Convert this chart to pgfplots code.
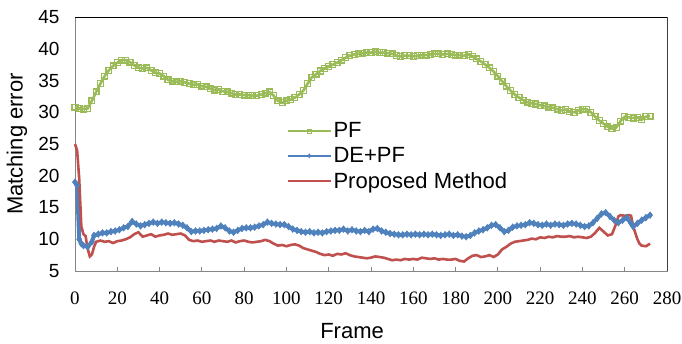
\documentclass[border=0pt]{standalone}
\usepackage{pgfplots}
\pgfplotsset{compat=1.18}
\usepackage{fontspec}
\setmainfont{Liberation Sans}
\newfontfamily\tickserif{Liberation Serif}
\definecolor{pfgreen}{HTML}{9BBB59}
\definecolor{deblue}{HTML}{4F81BD}
\definecolor{pmred}{HTML}{C0504D}
\definecolor{axgray}{HTML}{868686}
\begin{document}
\begin{tikzpicture}
\begin{axis}[
  scale only axis,
  width=592pt, height=254pt,
  xmin=0, xmax=280, ymin=5, ymax=45,
  xtick={0,20,...,280}, ytick={5,10,...,45},
  /pgf/number format/assume math mode=true,
  axis line style={axgray, line width=0.8pt},
  x tick style={axgray, line width=0.8pt},
  major tick length=4.5pt,
  xtick pos=bottom, ytick pos=left,
  tick align=inside,
  y tick style={draw=none},
  xticklabel style={font=\tickserif\fontsize{19}{19}\selectfont, yshift=-17pt},
  yticklabel style={font=\fontsize{19}{19}\selectfont, xshift=-12pt},
  xlabel={Frame}, ylabel={Matching error},
  label style={font=\fontsize{22}{22}\selectfont},
  xlabel style={at={(rel axis cs:0.468,0)}, anchor=center, yshift=-60pt},
  ylabel style={at={(rel axis cs:0,0.5)}, anchor=center, yshift=58pt},
  clip=false,
  legend style={at={(axis cs:100,28.6)}, anchor=north west, draw=none, fill=none,
    font=\fontsize{22}{22}\selectfont, row sep=5pt, inner sep=0pt,
    nodes={inner sep=1.5pt, anchor=west}},
  legend cell align=left,
  legend image code/.code={\draw[mark repeat=2,mark phase=2,#1] plot coordinates {(0pt,0pt) (21.5pt,0pt) (43pt,0pt)};},
  legend image post style={line width=2.4pt, mark size=2pt},
]
\addplot[pfgreen, line width=2.6pt, mark=square, mark size=2.9pt, mark options={line width=1.3pt, solid, fill=none}] coordinates {
(0,30.8)(2,30.6)(4,30.5)(6,30.6)(8,31.8)(10,33.2)(12,34.5)(14,35.7)(16,36.6)(18,37.3)(20,37.8)(22,38.2)(24,38.2)(26,37.9)(28,37.4)(30,37.0)(32,36.9)(34,37.0)(36,36.6)(38,36.2)(40,36.1)(42,35.7)(44,35.1)(46,34.9)(48,34.8)(50,34.9)(52,34.7)(54,34.5)(56,34.3)(58,34.4)(60,34.1)(62,34.0)(64,33.7)(66,33.5)(68,33.6)(70,33.3)(72,33.2)(74,33.0)(76,32.8)(78,32.8)(80,32.7)(82,32.7)(84,32.6)(86,32.6)(88,32.8)(90,33.0)(92,33.2)(94,32.6)(96,31.8)(98,31.5)(100,31.8)(102,32.0)(104,32.3)(106,32.8)(108,33.4)(110,34.5)(112,35.5)(114,36.0)(116,36.5)(118,36.9)(120,37.2)(122,37.5)(124,37.8)(126,38.2)(128,38.6)(130,38.9)(132,39.1)(134,39.2)(136,39.3)(138,39.4)(140,39.4)(142,39.5)(144,39.4)(146,39.4)(148,39.3)(150,39.2)(152,38.9)(154,38.8)(156,38.9)(158,38.9)(160,38.8)(162,38.9)(164,39.0)(166,39.0)(168,39.1)(170,39.2)(172,39.2)(174,39.1)(176,39.2)(178,39.1)(180,39.0)(182,39.0)(184,38.9)(186,39.1)(188,38.8)(190,38.4)(192,38.0)(194,37.5)(196,37.0)(198,36.4)(200,35.7)(202,34.9)(204,34.1)(206,33.4)(208,32.8)(210,32.3)(212,31.9)(214,31.6)(216,31.4)(218,31.3)(220,31.1)(222,31.0)(224,30.8)(226,30.7)(228,30.5)(230,30.3)(232,30.4)(234,30.1)(236,30.0)(238,30.3)(240,30.5)(242,30.5)(244,30.0)(246,29.3)(248,28.7)(250,28.2)(252,27.7)(254,27.4)(256,27.6)(258,28.6)(260,29.3)(262,29.2)(264,29.1)(266,29.2)(268,28.8)(270,29.3)(272,29.4)
};
\addlegendentry{PF}
\addplot[deblue, line width=4pt, mark=diamond*, mark size=3.4pt, mark options={solid, line width=0.5pt}] coordinates {
(0,19.0)(1,18.5)(2,10.0)(3,9.3)(4,9.0)(6,8.8)(8,9.6)(9,10.6)(11,10.8)(13,11.0)(15,11.0)(17,11.2)(19,11.3)(21,11.5)(23,11.8)(25,12.0)(27,12.8)(29,12.4)(31,12.1)(33,12.3)(35,12.5)(37,12.7)(39,12.5)(41,12.7)(43,12.6)(45,12.5)(47,12.6)(49,12.4)(51,12.2)(53,11.8)(55,11.2)(57,11.3)(59,11.3)(61,11.4)(63,11.5)(65,11.6)(67,11.7)(69,12.1)(71,11.8)(73,11.3)(75,11.1)(77,11.4)(79,11.7)(81,11.8)(83,11.8)(85,11.9)(87,12.1)(89,12.3)(91,12.7)(93,12.5)(95,12.4)(97,12.3)(99,12.3)(101,12.0)(103,11.6)(105,11.4)(107,11.2)(109,11.1)(111,11.2)(113,11.0)(115,11.1)(117,11.0)(119,11.2)(121,11.3)(123,11.4)(125,11.4)(127,11.6)(129,11.3)(131,11.5)(133,11.3)(135,11.2)(137,11.4)(139,11.2)(141,11.6)(143,11.7)(145,11.3)(147,11.1)(149,10.9)(151,10.8)(153,10.7)(155,10.7)(157,10.8)(159,10.7)(161,10.8)(163,10.7)(165,10.8)(167,10.7)(169,10.8)(171,10.7)(173,10.6)(175,10.7)(177,10.8)(179,10.6)(181,10.7)(183,10.5)(185,10.4)(187,10.6)(189,11.0)(191,11.3)(193,11.5)(195,11.8)(197,12.2)(199,12.3)(201,11.8)(203,11.2)(205,11.4)(207,11.9)(209,12.1)(211,12.2)(213,12.3)(215,12.6)(217,12.5)(219,12.3)(221,12.2)(223,12.4)(225,12.2)(227,12.4)(229,12.3)(231,12.2)(233,12.4)(235,12.5)(237,12.4)(239,12.2)(241,12.0)(243,12.1)(245,12.6)(247,13.3)(249,14.0)(251,14.2)(253,13.6)(255,13.0)(257,12.6)(259,13.0)(261,13.4)(263,12.5)(264,12.0)(266,12.5)(268,13.0)(270,13.4)(272,13.8)
};
\addlegendentry{DE+PF}
\addplot[pmred, line width=2.6pt, no marks] coordinates {
(0,25.0)(1,24.0)(2,19.5)(3,12.0)(4,10.8)(5,10.5)(6,8.5)(7,7.3)(8,7.6)(9,8.8)(10,9.6)(12,9.8)(14,9.6)(16,9.7)(18,9.4)(20,9.7)(22,9.8)(24,10.0)(26,10.3)(28,10.8)(30,11.1)(32,10.4)(34,10.6)(36,10.8)(38,10.4)(40,10.6)(42,10.7)(44,10.9)(46,10.7)(48,10.8)(50,10.9)(52,10.6)(54,9.9)(56,9.7)(58,9.8)(60,9.6)(62,9.7)(64,9.8)(66,9.6)(68,9.8)(70,9.7)(72,9.6)(74,9.8)(76,9.5)(78,9.7)(80,9.8)(82,9.6)(84,9.5)(86,9.6)(88,9.7)(90,9.9)(92,9.7)(94,9.3)(96,9.0)(98,9.1)(100,8.9)(102,9.1)(104,9.2)(106,9.0)(108,8.6)(110,8.4)(112,8.2)(114,8.0)(116,7.7)(118,7.5)(120,7.6)(122,7.4)(124,7.7)(126,7.6)(128,7.8)(130,7.5)(132,7.3)(134,7.2)(136,7.1)(138,7.0)(140,7.1)(142,7.3)(144,7.2)(146,7.1)(148,6.9)(150,6.7)(152,6.8)(154,6.7)(156,6.9)(158,6.8)(160,6.9)(162,6.8)(164,7.1)(166,7.0)(168,6.9)(170,7.0)(172,6.8)(174,6.9)(176,6.8)(178,6.8)(180,6.9)(182,6.6)(184,6.5)(186,7.0)(188,7.4)(190,7.5)(192,7.2)(194,7.3)(196,7.5)(198,7.2)(200,7.6)(202,8.4)(204,8.8)(206,9.3)(208,9.6)(210,9.7)(212,9.8)(214,9.9)(216,10.1)(218,10.0)(220,10.3)(222,10.2)(224,10.4)(226,10.3)(228,10.5)(230,10.4)(232,10.4)(234,10.5)(236,10.3)(238,10.4)(240,10.3)(242,10.2)(244,10.4)(246,11.0)(248,11.8)(250,11.2)(252,10.6)(254,10.8)(256,12.5)(257,13.6)(258,13.8)(260,13.7)(262,13.8)(263,13.7)(264,12.0)(265,11.0)(266,10.0)(267,9.3)(268,9.0)(270,8.9)(272,9.3)
};
\addlegendentry{Proposed Method}
\draw[black, line width=0.8pt] (rel axis cs:0,1) -- (rel axis cs:1,1);
\draw[black!75, line width=0.8pt] (rel axis cs:1,0) -- (rel axis cs:1,1);
\end{axis}
\pgfresetboundingbox
\path ([shift={(-75pt,-72pt)}]current axis.south west) rectangle ++(682pt,343pt);
\end{tikzpicture}
\end{document}
